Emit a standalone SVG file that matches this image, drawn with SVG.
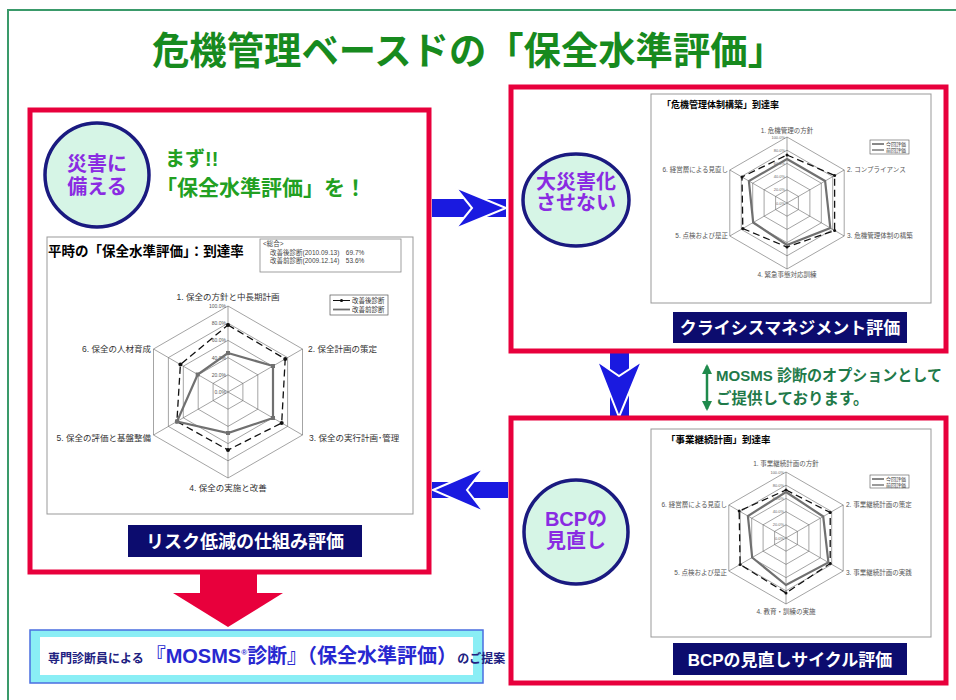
<svg xmlns="http://www.w3.org/2000/svg" width="956" height="700" viewBox="0 0 956 700">
<defs>
<style>
text{font-family:"Liberation Sans","Noto Sans CJK JP",sans-serif;}
.panel{fill:#fff;stroke:#e8003c;stroke-width:5;}
.circ{fill:#d6f5e6;stroke:#1a1a80;stroke-width:3.5;}
.ctext{font-size:20px;font-weight:bold;fill:#8a2be2;text-anchor:middle;}
.chart{fill:#fff;stroke:#999;stroke-width:1;}
.ring{fill:none;stroke:#666;stroke-width:0.6;}
.axis{stroke:#666;stroke-width:0.6;}
.after{fill:none;stroke:#111;stroke-width:1.3;stroke-dasharray:7 4;}
.before{fill:none;stroke:#707070;stroke-width:2.2;}
.lab{fill:#333;font-size:8.5px;}
.lab2{fill:#555;font-size:6.5px;}
.scale{fill:#555;font-size:5px;text-anchor:end;}
.scale2{fill:#666;font-size:4px;text-anchor:end;}
.navy{fill:#0c0c6e;}
.btext{fill:#fff;font-weight:bold;text-anchor:middle;}
.blue{fill:#1a1ae0;}
.chev{fill:#1a1ae0;stroke:#fff;stroke-width:2;stroke-linejoin:miter;}
</style>
<marker id="gh" viewBox="0 0 10 10" refX="8" refY="5" markerWidth="4" markerHeight="4" orient="auto-start-reverse">
<path d="M0,0 L10,5 L0,10 z" fill="#1f8a4c"/>
</marker>
</defs>
<rect width="956" height="700" fill="#fff"/>
<rect id="frame" x="8" y="10" width="960" height="700" fill="none" stroke="#3a9a6a" stroke-width="2"/>
<g id="title"><text x="152" y="64" font-size="38" font-weight="bold" fill="#178a1e" textLength="633" lengthAdjust="spacingAndGlyphs">危機管理ベースドの「保全水準評価」</text></g>

<g id="connectors">
<rect class="blue" x="432" y="199" width="74" height="18"/>
<polygon class="chev" points="455,187 506,208 455,229 472,208"/>
<rect class="blue" x="610" y="352" width="19" height="67"/>
<polygon class="chev" points="597,361 619,376 642,361 619,417"/>
<rect class="blue" x="432" y="482" width="76" height="16"/>
<polygon class="chev" points="433,490 484,468 467,490 484,512"/>
<rect x="200" y="572" width="57" height="22" fill="#e8003c"/>
<polygon points="173,593 283,593 228,627" fill="#e8003c"/>
<line x1="707" y1="366" x2="707" y2="409" stroke="#1f8a4c" stroke-width="2.5" marker-start="url(#gh)" marker-end="url(#gh)"/>
<text x="716" y="381" font-size="15.5" font-weight="bold" fill="#1f7a4a" textLength="226" lengthAdjust="spacingAndGlyphs">MOSMS 診断のオプションとして</text>
<text x="716" y="404" font-size="15.5" font-weight="bold" fill="#1f7a4a">ご提供しております。</text>
</g>

<g id="panel-left">
<rect class="panel" x="30" y="110" width="399" height="462"/>
<g id="circle-left">
<circle class="circ" cx="97" cy="175" r="52"/>
<text class="ctext" x="97" y="171" font-size="19">災害に</text>
<text class="ctext" x="97" y="194" font-size="19">備える</text>
</g>
<text x="165" y="166" font-size="20" font-weight="bold" fill="#22a022">まず!!</text>
<text x="156" y="195" font-size="21" font-weight="bold" fill="#22a022">「保全水準評価」を！</text>
<g id="chart-left">
<rect class="chart" x="47" y="237" width="366" height="277"/>
<text x="48" y="256" font-size="13.5" font-weight="bold" fill="#000">平時の「保全水準評価」：到達率</text>
<rect x="260" y="239" width="141" height="33" fill="#fff" stroke="#888" stroke-width="0.8"/>
<text x="263" y="246" font-size="6.5" fill="#444">&lt;総合&gt;</text>
<text x="270" y="255" font-size="6.5" fill="#444">改善後診断(2010.09.13)　69.7%</text>
<text x="270" y="263" font-size="6.5" fill="#444">改善前診断(2009.12.14)　53.6%</text>
<polygon class="ring" points="228,306 302.5,349 302.5,435 228,478 153.5,435 153.5,349"/>
<polygon class="ring" points="228,323.2 287.6,357.6 287.6,426.4 228,460.8 168.4,426.4 168.4,357.6"/>
<polygon class="ring" points="228,340.4 272.7,366.2 272.7,417.8 228,443.6 183.3,417.8 183.3,366.2"/>
<polygon class="ring" points="228,357.6 257.8,374.8 257.8,409.2 228,426.4 198.2,409.2 198.2,374.8"/>
<polygon class="ring" points="228,374.8 242.9,383.4 242.9,400.6 228,409.2 213.1,400.6 213.1,383.4"/>
<path class="axis" d="M228,392 L228,306 M228,392 L302.5,349 M228,392 L302.5,435 M228,392 L228,478 M228,392 L153.5,435 M228,392 L153.5,349"/>
<text class="scale" x="226" y="308">100.0%</text>
<text class="scale" x="226" y="325">80.0%</text>
<text class="scale" x="226" y="342">60.0%</text>
<text class="scale" x="226" y="360">40.0%</text>
<text class="scale" x="226" y="377">20.0%</text>
<text class="scale" x="226" y="394">0.0%</text>
<polygon class="after" points="228,325 285.2,359 281.7,423 228,450 176.9,421.5 180.4,364.5"/>
<g fill="#111"><circle cx="228" cy="325" r="2"/><circle cx="285.2" cy="359" r="2"/><circle cx="281.7" cy="423" r="2"/><circle cx="228" cy="450" r="2"/><circle cx="176.9" cy="421.5" r="2"/><circle cx="180.4" cy="364.5" r="2"/></g>
<polygon class="before" points="228,353 273,366 273,418 228,433 177,421.5 197.7,374.5"/>
<g fill="#707070"><rect x="226" y="351" width="4" height="4"/><rect x="271" y="364" width="4" height="4"/><rect x="271" y="416" width="4" height="4"/><rect x="226" y="431" width="4" height="4"/><rect x="175" y="419.5" width="4" height="4"/><rect x="195.7" y="372.5" width="4" height="4"/></g>
<text class="lab" x="228" y="300" text-anchor="middle">1. 保全の方針と中長期計画</text>
<text class="lab" x="308" y="352">2. 保全計画の策定</text>
<text class="lab" x="309" y="441">3. 保全の実行計画･管理</text>
<text class="lab" x="228" y="491" text-anchor="middle">4. 保全の実施と改善</text>
<text class="lab" x="151" y="441" text-anchor="end">5. 保全の評価と基盤整備</text>
<text class="lab" x="151" y="352" text-anchor="end">6. 保全の人材育成</text>
<rect x="330" y="295" width="58" height="20" fill="#fff" stroke="#555" stroke-width="0.7"/>
<line x1="333" y1="300.5" x2="350" y2="300.5" stroke="#111" stroke-width="1"/>
<circle cx="341.5" cy="300.5" r="1.6" fill="#111"/>
<line x1="333" y1="309.5" x2="350" y2="309.5" stroke="#707070" stroke-width="1.8"/>
<text x="352" y="303" font-size="6.5" fill="#333">改善後診断</text>
<text x="352" y="312" font-size="6.5" fill="#333">改善前診断</text>
</g>
<rect class="navy" x="128" y="525" width="234" height="32"/>
<text class="btext" x="245" y="548" font-size="18">リスク低減の仕組み評価</text>
</g>

<g id="panel-top-right">
<rect class="panel" x="511" y="87" width="435" height="264"/>
<g id="circle-top-right">
<ellipse class="circ" cx="576" cy="200" rx="53" ry="46"/>
<text class="ctext" x="576" y="189">大災害化</text>
<text class="ctext" x="576" y="210">させない</text>
</g>
<g id="chart-top-right">
<rect class="chart" x="651" y="94" width="280" height="209"/>
<text x="662" y="108" font-size="9" font-weight="bold" fill="#000">「危機管理体制構築」到達率</text>
<polygon class="ring" points="787,137 844.2,170 844.2,236 787,269 729.8,236 729.8,170"/>
<polygon class="ring" points="787,150.2 832.7,176.6 832.7,229.4 787,255.8 741.3,229.4 741.3,176.6"/>
<polygon class="ring" points="787,163.4 821.3,183.2 821.3,222.8 787,242.6 752.7,222.8 752.7,183.2"/>
<polygon class="ring" points="787,176.6 809.9,189.8 809.9,216.2 787,229.4 764.1,216.2 764.1,189.8"/>
<polygon class="ring" points="787,189.8 798.4,196.4 798.4,209.6 787,216.2 775.6,209.6 775.6,196.4"/>
<path class="axis" d="M787,203 L787,137 M787,203 L844.2,170 M787,203 L844.2,236 M787,203 L787,269 M787,203 L729.8,236 M787,203 L729.8,170"/>
<text class="scale2" x="785" y="139">100.0%</text>
<text class="scale2" x="785" y="152">80.0%</text>
<text class="scale2" x="785" y="165">60.0%</text>
<text class="scale2" x="785" y="178">40.0%</text>
<text class="scale2" x="785" y="191">20.0%</text>
<text class="scale2" x="785" y="205">0.0%</text>
<polygon class="after" points="787,155 834.6,175.5 834.6,230.5 787,247 742.8,228.5 742,177" stroke-dasharray="5 3" stroke-width="1"/>
<g fill="#111"><circle cx="787" cy="155" r="1.5"/><circle cx="834.6" cy="175.5" r="1.5"/><circle cx="834.6" cy="230.5" r="1.5"/><circle cx="787" cy="247" r="1.5"/><circle cx="742.8" cy="228.5" r="1.5"/><circle cx="742" cy="177" r="1.5"/></g>
<polygon class="before" points="787,159 825.1,181 830.3,228 787,245 753.2,222.5 748.9,181" stroke-width="1.8"/>
<text class="lab2" x="787" y="133" text-anchor="middle">1. 危機管理の方針</text>
<text class="lab2" x="847" y="172">2. コンプライアンス</text>
<text class="lab2" x="847" y="238">3. 危機管理体制の構築</text>
<text class="lab2" x="787" y="277" text-anchor="middle">4. 緊急事態対応訓練</text>
<text class="lab2" x="728" y="238" text-anchor="end">5. 点検および是正</text>
<text class="lab2" x="728" y="172" text-anchor="end">6. 経営層による見直し</text>
<rect x="870" y="140" width="39" height="14" fill="#fff" stroke="#555" stroke-width="0.6"/>
<line x1="872" y1="144" x2="884" y2="144" stroke="#111" stroke-width="1"/>
<line x1="872" y1="150" x2="884" y2="150" stroke="#707070" stroke-width="1.4"/>
<text x="886" y="146" font-size="5" fill="#333">今回評価</text>
<text x="886" y="152" font-size="5" fill="#333">前回評価</text>
</g>
<rect class="navy" x="673" y="312" width="234" height="31"/>
<text class="btext" x="790" y="334" font-size="17">クライシスマネジメント評価</text>
</g>

<g id="panel-bottom-right">
<rect class="panel" x="511" y="418" width="435" height="265"/>
<g id="circle-bottom-right">
<circle class="circ" cx="576" cy="532" r="52"/>
<text class="ctext" x="576" y="526" font-size="21">BCPの</text>
<text class="ctext" x="576" y="548" font-size="21">見直し</text>
</g>
<g id="chart-bottom-right">
<rect class="chart" x="651" y="429" width="280" height="208"/>
<text x="666" y="443" font-size="9.5" font-weight="bold" fill="#000">「事業継続計画」到達率</text>
<polygon class="ring" points="786,472 843.2,505 843.2,571 786,604 728.8,571 728.8,505"/>
<polygon class="ring" points="786,485.2 831.7,511.6 831.7,564.4 786,590.8 740.3,564.4 740.3,511.6"/>
<polygon class="ring" points="786,498.4 820.3,518.2 820.3,557.8 786,577.6 751.7,557.8 751.7,518.2"/>
<polygon class="ring" points="786,511.6 808.9,524.8 808.9,551.2 786,564.4 763.1,551.2 763.1,524.8"/>
<polygon class="ring" points="786,524.8 797.4,531.4 797.4,544.6 786,551.2 774.6,544.6 774.6,531.4"/>
<path class="axis" d="M786,538 L786,472 M786,538 L843.2,505 M786,538 L843.2,571 M786,538 L786,604 M786,538 L728.8,571 M786,538 L728.8,505"/>
<text class="scale2" x="784" y="474">100.0%</text>
<text class="scale2" x="784" y="487">80.0%</text>
<text class="scale2" x="784" y="500">60.0%</text>
<text class="scale2" x="784" y="513">40.0%</text>
<text class="scale2" x="784" y="526">20.0%</text>
<text class="scale2" x="784" y="540">0.0%</text>
<polygon class="after" points="786,490 830.2,512.5 830.2,563.5 786,593 740.1,564.5 739.2,511" stroke-dasharray="5 3" stroke-width="1"/>
<g fill="#111"><circle cx="786" cy="490" r="1.5"/><circle cx="830.2" cy="512.5" r="1.5"/><circle cx="830.2" cy="563.5" r="1.5"/><circle cx="786" cy="593" r="1.5"/><circle cx="740.1" cy="564.5" r="1.5"/><circle cx="739.2" cy="511" r="1.5"/></g>
<polygon class="before" points="786,492 823.2,516.5 828.4,562.5 786,585 752.2,557.5 747.9,516" stroke-width="1.8"/>
<text class="lab2" x="786" y="466" text-anchor="middle">1. 事業継続計画の方針</text>
<text class="lab2" x="846" y="507">2. 事業継続計画の策定</text>
<text class="lab2" x="846" y="575">3. 事業継続計画の実践</text>
<text class="lab2" x="786" y="614" text-anchor="middle">4. 教育・訓練の実施</text>
<text class="lab2" x="727" y="575" text-anchor="end">5. 点検および是正</text>
<text class="lab2" x="727" y="507" text-anchor="end">6. 経営層による見直し</text>
<rect x="870" y="475" width="39" height="13" fill="#fff" stroke="#555" stroke-width="0.6"/>
<line x1="872" y1="479" x2="884" y2="479" stroke="#111" stroke-width="1"/>
<line x1="872" y1="485" x2="884" y2="485" stroke="#707070" stroke-width="1.4"/>
<text x="886" y="481" font-size="5" fill="#333">今回評価</text>
<text x="886" y="487" font-size="5" fill="#333">前回評価</text>
</g>
<rect class="navy" x="673" y="643" width="234" height="32"/>
<text class="btext" x="790" y="666" font-size="17">BCPの見直しサイクル評価</text>
</g>

<g id="proposal">
<rect x="30" y="630" width="453" height="53" fill="#8aeef5" stroke="#4a6ee0" stroke-width="1.5"/>
<rect x="40" y="637" width="433" height="38" fill="#fff"/>
<text x="48" y="663" font-weight="bold"><tspan font-size="12" fill="#202080">専門診断員による</tspan><tspan font-size="20" fill="#2828d0" dx="2">『MOSMS</tspan><tspan font-size="8" fill="#2828d0" dy="-8">®</tspan><tspan font-size="20" fill="#2828d0" dy="8">診断』（保全水準評価）</tspan><tspan font-size="12" fill="#202080">のご提案</tspan></text>
</g>
</svg>
